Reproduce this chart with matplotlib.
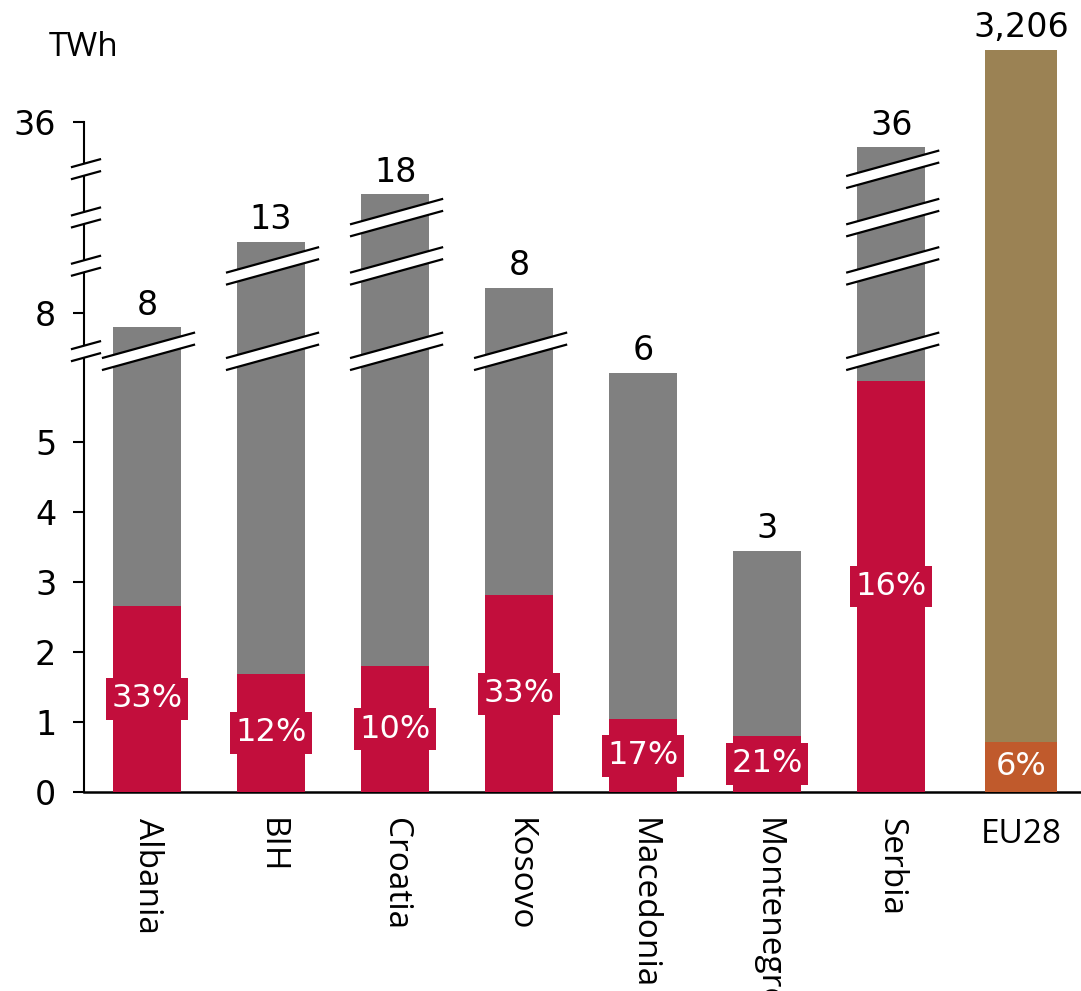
import numpy as np
import matplotlib
matplotlib.use('Agg')
import matplotlib.pyplot as plt
from matplotlib.transforms import IdentityTransform
from matplotlib.patches import Polygon

plt.rcParams['font.family'] = ['Open Sans', 'DejaVu Sans']
NUM_FONT = ['DejaVu Sans']  # wider digits, closer to the original

# data (TWh)
countries = ['Albania', 'BIH', 'Croatia', 'Kosovo', 'Macedonia', 'Montenegro', 'Serbia', 'EU28']
totals = [7.7, 12.8, 18.2, 8.4, 5.99, 3.45, 35.6, 3206]
renewables = [2.66, 1.69, 1.80, 2.81, 1.04, 0.80, 5.87, 0.72]
shares = [33, 12, 10, 33, 17, 21, 16, 6]
ytick_vals = [0, 1, 2, 3, 4, 5, 8, 36]

GREY = '#808080'
RED = '#C20E3C'
BROWN = '#9B8254'
ORANGE = '#C05A2C'

# broken axis: piecewise linear scale (value -> plot units)
knot_v = [0, 6, 7.7, 8, 8.4, 12.8, 18.2, 35.6, 36, 3206, 3600]
knot_u = [0, 6, 6.64, 6.84, 7.2, 7.86, 8.54, 9.21, 9.57, 10.6, 11.4]


def fwd(v):
    return np.interp(v, knot_v, knot_u)


def inv(u):
    return np.interp(u, knot_u, knot_v)


W, H = 1081, 991
fig = plt.figure(figsize=(W / 100, H / 100), dpi=100)
ax_px = (84, 199, W - 84, 792)  # left, bottom, width, height in pixels
ax = fig.add_axes([ax_px[0] / W, ax_px[1] / H, ax_px[2] / W, ax_px[3] / H])
ax.set_yscale('function', functions=(fwd, inv))
u_top = ax_px[3] / 70.0
ax.set_ylim(0, float(inv(u_top)))

x = np.arange(len(countries), dtype=float)
x[-1] += 0.05
ax.set_xlim(-0.508, 7.53)
widths = [0.55] * 7 + [0.58]
top_cols = [GREY] * 7 + [BROWN]
bot_cols = [RED] * 7 + [ORANGE]

ax.bar(x, totals, width=widths, color=top_cols, zorder=2)
ax.bar(x, renewables, width=widths, color=bot_cols, zorder=3)

for xi, t, r, s, c in zip(x, totals, renewables, shares, bot_cols):
    ax.annotate(f'{t:,.0f}', (xi, t), xytext=(0, 4), textcoords='offset points',
                ha='center', va='bottom', fontsize=24, family=NUM_FONT)
    ax.text(xi, r / 2, f'{s}%', ha='center', va='center', color='white', fontsize=23,
            family=NUM_FONT, zorder=6,
            bbox=dict(boxstyle='square,pad=0.17', fc=c, ec='none'))

# axes styling
for side in ['top', 'right']:
    ax.spines[side].set_visible(False)
ax.spines['left'].set_linewidth(1.5)
ax.spines['bottom'].set_linewidth(1.8)
ax.spines['left'].set_bounds(0, 36)
ax.set_yticks(ytick_vals)
ax.set_yticklabels([str(v) for v in ytick_vals], family=NUM_FONT)
ax.tick_params(axis='y', length=8, width=1.5, labelsize=24, pad=12)
ax.minorticks_off()
ax.set_xticks(x)
ax.set_xticklabels(countries)
ax.tick_params(axis='x', length=0, labelsize=24, pad=19)
for lbl in ax.get_xticklabels()[:-1]:
    lbl.set_rotation(-90)
    lbl.set_va('top')

fig.text(84 / W, 1 - 48 / H, 'TWh', ha='center', va='center', fontsize=24)

# break marks (levels in plot units)
break_u = [6.29, 7.51, 8.2, 8.89]
slope = 0.275
gap = 12


def draw_break(xc_disp, u, left, right):
    yc = ax.transAxes.transform((0, u / u_top))[1]
    x0, x1 = xc_disp - left, xc_disp + right
    y0, y1 = yc - slope * left, yc + slope * right
    poly = Polygon([(x0, y0 - gap / 2), (x1, y1 - gap / 2), (x1, y1 + gap / 2), (x0, y0 + gap / 2)],
                   closed=True, fc='white', ec='none', transform=IdentityTransform(),
                   zorder=7, clip_on=False)
    ax.add_patch(poly)
    for d in (-gap / 2, gap / 2):
        ax.plot([x0, x1], [y0 + d, y1 + d], color='black', lw=1.6,
                transform=IdentityTransform(), zorder=8, clip_on=False)


axis_x = ax.transAxes.transform((0, 0))[0]
for u in break_u:
    draw_break(axis_x, u, 12, 16)
for xi, t in zip(x[:-1], totals[:-1]):
    xd = ax.transData.transform((xi, 1))[0]
    for u in break_u:
        if fwd(t) > u + 0.15:
            draw_break(xd, u, 44, 47)

fig.savefig('out.png', dpi=100)
